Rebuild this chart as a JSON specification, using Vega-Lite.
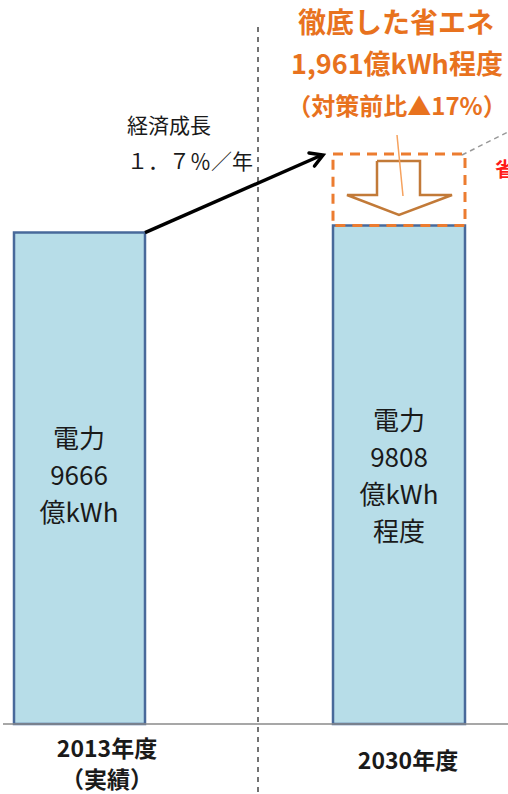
{
  "$schema": "https://vega.github.io/schema/vega-lite/v6.json",
  "width": 508,
  "height": 794,
  "autosize": "none",
  "padding": 0,
  "background": "white",
  "config": {"view": {"stroke": null}, "axis": {"disable": true}, "text": {"font": "Noto Sans CJK JP"}},
  "datasets": {
    "bars": [
      {"year": "2013年度", "x": 14, "x2": 145, "value": 9666},
      {"year": "2030年度", "x": 333, "x2": 465, "value": 9808}
    ],
    "box": [
      {"x": 333, "x2": 465, "y": 9808, "y2": 11212}
    ],
    "segments": [
      {"id": "baseline", "x": 3, "y": 0, "x2": 508, "y2": 0},
      {"id": "divider", "x": 258, "y": 13711, "x2": 258, "y2": -1377},
      {"id": "growth", "x": 145, "y": 9666, "x2": 322, "y2": 11193},
      {"id": "callout", "x": 397, "y": 11586, "x2": 403, "y2": 10386},
      {"id": "leader", "x": 462, "y": 11193, "x2": 508, "y2": 11646}
    ],
    "paths": [
      {"id": "head", "order": 1, "x": 309, "y": 11232},
      {"id": "head", "order": 2, "x": 323, "y": 11193},
      {"id": "head", "order": 3, "x": 314.5, "y": 10976},
      {"id": "block", "order": 1, "x": 377, "y": 11075},
      {"id": "block", "order": 2, "x": 420, "y": 11075},
      {"id": "block", "order": 3, "x": 420, "y": 10406},
      {"id": "block", "order": 4, "x": 452, "y": 10406},
      {"id": "block", "order": 5, "x": 399, "y": 10013},
      {"id": "block", "order": 6, "x": 347, "y": 10406},
      {"id": "block", "order": 7, "x": 377, "y": 10406},
      {"id": "block", "order": 8, "x": 377, "y": 11075}
    ],
    "texts": [
      {"role": "title1", "x": 396, "y": 13750, "label": "徹底した省エネ"},
      {"role": "title2", "x": 397, "y": 12943, "label": "1,961億kWh程度"},
      {"role": "title3", "x": 397, "y": 12117, "label": "（対策前比▲17%）"},
      {"role": "note", "x": 127, "y": 11744, "label": "経済成長"},
      {"role": "note", "x": 127, "y": 11035, "label": "１．７％／年"},
      {"role": "red", "x": 495, "y": 10878, "label": "省エネ"},
      {"role": "bar", "x": 79, "y": 5587, "label": "電力\n9666\n億kWh"},
      {"role": "bar", "x": 399, "y": 5941, "label": "電力\n9808\n億kWh\n程度"},
      {"role": "axis", "x": 107, "y": -511, "label": "2013年度\n（実績）"},
      {"role": "axis", "x": 408, "y": -748, "label": "2030年度"}
    ]
  },
  "layer": [
    {
      "data": {"name": "bars"},
      "mark": {"type": "rect", "fill": "#b7dde8", "stroke": "#48699a", "strokeWidth": 2.5},
      "encoding": {
        "x": {"field": "x", "type": "quantitative", "scale": {"domain": [0, 508], "nice": false, "zero": false}},
        "x2": {"field": "x2"},
        "y": {"field": "value", "type": "quantitative", "scale": {"domain": [-1377, 14242], "nice": false, "zero": false}},
        "y2": {"datum": 0}
      }
    },
    {
      "data": {"name": "segments"},
      "transform": [{"filter": "datum.id == 'baseline'"}],
      "mark": {"type": "rule", "stroke": "#8a8a8a", "strokeWidth": 1.5},
      "encoding": {
        "x": {"field": "x", "type": "quantitative"}, "x2": {"field": "x2"},
        "y": {"field": "y", "type": "quantitative"}, "y2": {"field": "y2"}
      }
    },
    {
      "data": {"name": "segments"},
      "transform": [{"filter": "datum.id == 'divider'"}],
      "mark": {"type": "rule", "stroke": "#444444", "strokeWidth": 1.5, "strokeDash": [5, 5]},
      "encoding": {
        "x": {"field": "x", "type": "quantitative"}, "x2": {"field": "x2"},
        "y": {"field": "y", "type": "quantitative"}, "y2": {"field": "y2"}
      }
    },
    {
      "data": {"name": "segments"},
      "transform": [{"filter": "datum.id == 'leader'"}],
      "mark": {"type": "rule", "stroke": "#999999", "strokeWidth": 1.5, "strokeDash": [5, 4]},
      "encoding": {
        "x": {"field": "x", "type": "quantitative"}, "x2": {"field": "x2"},
        "y": {"field": "y", "type": "quantitative"}, "y2": {"field": "y2"}
      }
    },
    {
      "data": {"name": "paths"},
      "transform": [{"filter": "datum.id == 'block'"}],
      "mark": {"type": "line", "stroke": "#c27a38", "strokeWidth": 2.5, "strokeJoin": "miter"},
      "encoding": {
        "x": {"field": "x", "type": "quantitative"},
        "y": {"field": "y", "type": "quantitative"},
        "order": {"field": "order", "type": "quantitative"}
      }
    },
    {
      "data": {"name": "segments"},
      "transform": [{"filter": "datum.id == 'callout'"}],
      "mark": {"type": "rule", "stroke": "#f6a25e", "strokeWidth": 1.5},
      "encoding": {
        "x": {"field": "x", "type": "quantitative"}, "x2": {"field": "x2"},
        "y": {"field": "y", "type": "quantitative"}, "y2": {"field": "y2"}
      }
    },
    {
      "data": {"name": "box"},
      "mark": {"type": "rect", "fill": "transparent", "stroke": "#ec7c30", "strokeWidth": 3, "strokeDash": [10, 7]},
      "encoding": {
        "x": {"field": "x", "type": "quantitative"}, "x2": {"field": "x2"},
        "y": {"field": "y", "type": "quantitative"}, "y2": {"field": "y2"}
      }
    },
    {
      "data": {"name": "segments"},
      "transform": [{"filter": "datum.id == 'growth'"}],
      "mark": {"type": "rule", "stroke": "#000000", "strokeWidth": 3.5},
      "encoding": {
        "x": {"field": "x", "type": "quantitative"}, "x2": {"field": "x2"},
        "y": {"field": "y", "type": "quantitative"}, "y2": {"field": "y2"}
      }
    },
    {
      "data": {"name": "paths"},
      "transform": [{"filter": "datum.id == 'head'"}],
      "mark": {"type": "line", "stroke": "#000000", "strokeWidth": 3.5, "strokeCap": "round", "strokeJoin": "miter"},
      "encoding": {
        "x": {"field": "x", "type": "quantitative"},
        "y": {"field": "y", "type": "quantitative"},
        "order": {"field": "order", "type": "quantitative"}
      }
    },
    {
      "data": {"name": "texts"},
      "transform": [{"filter": "datum.role == 'title1'"}],
      "mark": {"type": "text", "fontSize": 28, "fontWeight": "bold", "fill": "#e8721e", "align": "center", "baseline": "middle"},
      "encoding": {
        "x": {"field": "x", "type": "quantitative"},
        "y": {"field": "y", "type": "quantitative"},
        "text": {"field": "label", "type": "nominal"}
      }
    },
    {
      "data": {"name": "texts"},
      "transform": [{"filter": "datum.role == 'title2'"}],
      "mark": {"type": "text", "fontSize": 27, "fontWeight": "bold", "fill": "#e8721e", "align": "center", "baseline": "middle"},
      "encoding": {
        "x": {"field": "x", "type": "quantitative"},
        "y": {"field": "y", "type": "quantitative"},
        "text": {"field": "label", "type": "nominal"}
      }
    },
    {
      "data": {"name": "texts"},
      "transform": [{"filter": "datum.role == 'title3'"}],
      "mark": {"type": "text", "fontSize": 24, "fontWeight": "bold", "fill": "#e8721e", "align": "center", "baseline": "middle"},
      "encoding": {
        "x": {"field": "x", "type": "quantitative"},
        "y": {"field": "y", "type": "quantitative"},
        "text": {"field": "label", "type": "nominal"}
      }
    },
    {
      "data": {"name": "texts"},
      "transform": [{"filter": "datum.role == 'note'"}],
      "mark": {"type": "text", "fontSize": 21, "fill": "#1a1a1a", "align": "left", "baseline": "middle"},
      "encoding": {
        "x": {"field": "x", "type": "quantitative"},
        "y": {"field": "y", "type": "quantitative"},
        "text": {"field": "label", "type": "nominal"}
      }
    },
    {
      "data": {"name": "texts"},
      "transform": [{"filter": "datum.role == 'red'"}],
      "mark": {"type": "text", "fontSize": 20, "fontWeight": "bold", "fill": "#ff1a1a", "align": "left", "baseline": "middle"},
      "encoding": {
        "x": {"field": "x", "type": "quantitative"},
        "y": {"field": "y", "type": "quantitative"},
        "text": {"field": "label", "type": "nominal"}
      }
    },
    {
      "data": {"name": "texts"},
      "transform": [{"filter": "datum.role == 'bar'"}],
      "mark": {"type": "text", "fontSize": 26, "fill": "#1a1a1a", "align": "center", "baseline": "middle", "lineBreak": "\n", "lineHeight": 37},
      "encoding": {
        "x": {"field": "x", "type": "quantitative"},
        "y": {"field": "y", "type": "quantitative"},
        "text": {"field": "label", "type": "nominal"}
      }
    },
    {
      "data": {"name": "texts"},
      "transform": [{"filter": "datum.role == 'axis'"}],
      "mark": {"type": "text", "fontSize": 23, "fontWeight": "bold", "fill": "#1a1a1a", "align": "center", "baseline": "middle", "lineBreak": "\n", "lineHeight": 31},
      "encoding": {
        "x": {"field": "x", "type": "quantitative"},
        "y": {"field": "y", "type": "quantitative"},
        "text": {"field": "label", "type": "nominal"}
      }
    }
  ]
}
